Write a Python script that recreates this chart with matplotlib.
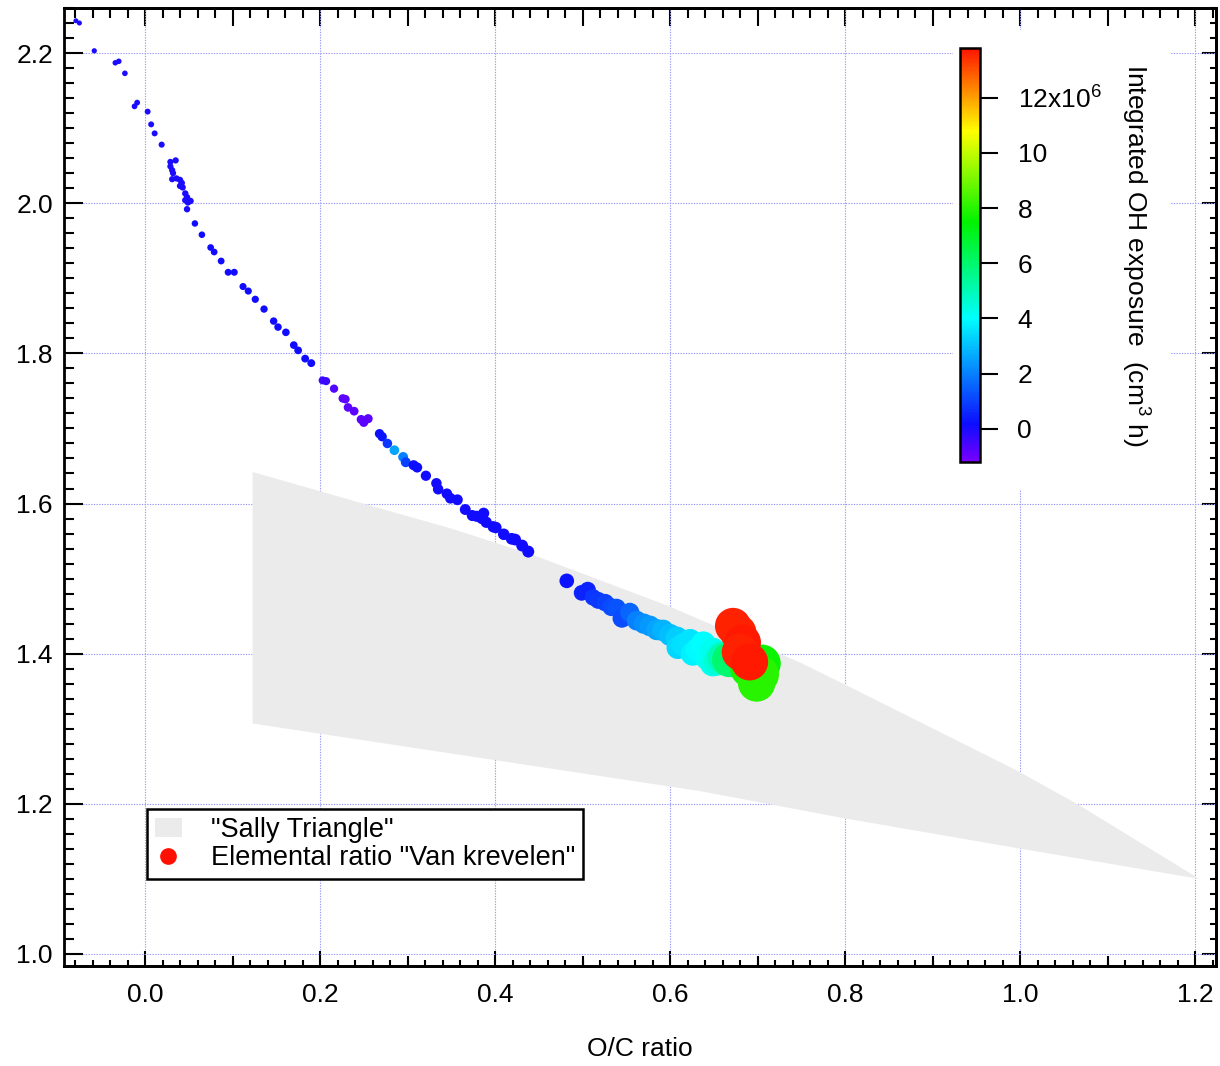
import numpy as np
import matplotlib
matplotlib.use("Agg")
import matplotlib.pyplot as plt
from matplotlib.colors import LinearSegmentedColormap, Normalize
from matplotlib.patches import Patch, Rectangle
from matplotlib.lines import Line2D
from matplotlib.ticker import MultipleLocator, NullFormatter

plt.rcParams['font.family'] = ['Liberation Sans', 'DejaVu Sans']
plt.rcParams['mathtext.fontset'] = 'custom'
plt.rcParams['mathtext.rm'] = 'Liberation Sans'
plt.rcParams['mathtext.it'] = 'Liberation Sans'

# Van Krevelen data: O/C, H/C and integrated OH exposure (units of 1e6 cm^-3 h)
oc = [-0.079, -0.075, -0.058, -0.034, -0.030, -0.023, -0.012, -0.009, 0.003, 0.007, 0.011, 0.019,
      0.029, 0.035, 0.029, 0.031, 0.032, 0.031, 0.036, 0.040, 0.042, 0.040, 0.043, 0.046, 0.048,
      0.046, 0.049, 0.052, 0.048,
      0.057, 0.065, 0.075, 0.079, 0.087, 0.095, 0.102, 0.112, 0.118, 0.126, 0.136, 0.147, 0.152,
      0.161, 0.170, 0.175, 0.183, 0.190,
      0.203, 0.207, 0.216, 0.226, 0.229, 0.232, 0.239, 0.247, 0.250, 0.255,
      0.268, 0.271, 0.277, 0.285, 0.295, 0.298, 0.307, 0.311, 0.321, 0.333, 0.335, 0.345, 0.349,
      0.357, 0.366, 0.374, 0.379, 0.387, 0.385, 0.390, 0.398, 0.401, 0.410, 0.419, 0.423, 0.431, 0.438,
      0.482, 0.499, 0.506, 0.512, 0.518, 0.526, 0.533, 0.539, 0.545, 0.554, 0.562, 0.570, 0.577,
      0.585, 0.592, 0.600, 0.608, 0.609, 0.615, 0.623, 0.626, 0.632, 0.638, 0.643, 0.649, 0.649,
      0.655, 0.660, 0.668,
      0.690, 0.699, 0.705, 0.703,
      0.672, 0.678, 0.683, 0.680, 0.691]
hc = [2.243, 2.240, 2.203, 2.187, 2.189, 2.173, 2.129, 2.134, 2.122, 2.105, 2.093, 2.078,
      2.055, 2.057, 2.049, 2.044, 2.040, 2.032, 2.033, 2.031, 2.027, 2.023, 2.021, 2.013, 2.008,
      2.004, 2.001, 2.003, 1.992,
      1.973, 1.958, 1.941, 1.935, 1.923, 1.908, 1.908, 1.889, 1.883, 1.872, 1.859, 1.843, 1.835,
      1.828, 1.811, 1.804, 1.793, 1.787,
      1.764, 1.763, 1.753, 1.740, 1.739, 1.728, 1.723, 1.712, 1.708, 1.713,
      1.693, 1.689, 1.680, 1.671, 1.662, 1.655, 1.651, 1.648, 1.637, 1.627, 1.619, 1.613, 1.607,
      1.605, 1.592, 1.584, 1.583, 1.587, 1.580, 1.575, 1.569, 1.568, 1.559, 1.553, 1.552, 1.544, 1.536,
      1.497, 1.481, 1.485, 1.475, 1.471, 1.468, 1.462, 1.461, 1.447, 1.455, 1.444, 1.440, 1.437,
      1.432, 1.431, 1.425, 1.421, 1.408, 1.412, 1.417, 1.400, 1.405, 1.413, 1.395, 1.404, 1.387,
      1.390, 1.395, 1.392,
      1.380, 1.361, 1.387, 1.372,
      1.437, 1.428, 1.415, 1.402, 1.389]
oh_exposure = [0.0] * 12 + [0.0] * 17 + [0.1] * 18 + \
    [-0.4, -0.4, -0.7, -0.8, -0.8, -0.8, -0.8, -0.8, -0.8, -0.8] + \
    [0.2, 0.3, 0.8, 2.6, 2.0, 1.0, 0.2, 0.2, 0.1, 0.1, 0.1, 0.1, 0.1, 0.1, 0.1, 0.1, 0.1,
     0.1, 0.1, 0.1, 0.1, 0.1, 0.1, 0.1, 0.1, 0.1, 0.1] + \
    [0.3, 0.5, 0.5, 0.8, 0.9, 1.0, 1.2, 1.3, 1.2, 1.6, 2.0, 2.2, 2.4,
     2.6, 2.8, 3.0, 3.2, 3.4, 3.5, 3.6, 3.8, 3.9, 4.0, 4.1, 4.2, 4.3,
     4.6, 5.0, 6.0] + \
    [7.8, 8.0, 7.6, 8.0] + \
    [13.6, 13.6, 13.7, 13.6, 13.7]

# "Sally triangle" outline (upper edge, then lower edge back)
tri_oc = [0.123, 0.249, 0.349, 0.440, 0.597, 0.749, 0.798, 0.997, 1.065, 1.205,
          0.997, 0.798, 0.634, 0.123]
tri_hc = [1.642, 1.600, 1.567, 1.533, 1.464, 1.388, 1.360, 1.244, 1.200, 1.100,
          1.141, 1.181, 1.217, 1.307]

cbar_ticks = [0, 2, 4, 6, 8, 10, 12]
cbar_labels = ['0', '2', '4', '6', '8', '10', '12x10$^{6}$']

# rainbow: purple -> blue -> cyan -> green -> yellow -> red
rainbow = LinearSegmentedColormap.from_list('igor_rainbow', [
    (0.00, (0.47, 0.0, 1.0)),
    (0.09, (0.05, 0.05, 1.0)),
    (0.347, (0.0, 1.0, 1.0)),
    (0.58, (0.0, 0.95, 0.0)),
    (0.80, (1.0, 1.0, 0.0)),
    (1.00, (1.0, 0.08, 0.0)),
])
norm = Normalize(vmin=-1.2, vmax=13.8)

W, H = 1220, 1066
fig = plt.figure(figsize=(W / 100, H / 100), dpi=100)
ax = fig.add_axes([64 / W, 100 / H, 1152 / W, 958 / H])

ax.fill(tri_oc, tri_hc, color='#ebebeb', lw=0, zorder=1)

# marker diameter grows along the oxidation path
oc_arr = np.array(oc)
diam_px = np.interp(oc_arr, [-0.08, 0.1, 0.2, 0.3, 0.44, 0.48, 0.55, 0.6, 0.65, 0.67, 0.71],
                    [5, 7, 8, 10, 12, 14.5, 19, 22, 26, 36, 38])
sizes = (diam_px * 0.72) ** 2
sc = ax.scatter(oc, hc, c=oh_exposure, cmap=rainbow, norm=norm, s=sizes,
                edgecolors='none', zorder=3)

ax.set_xlim(-0.0926, 1.224)
ax.set_ylim(0.984, 2.26)
ax.set_axisbelow(True)
ax.grid(True, which='major', color=(0.6, 0.6, 1.0), linestyle=(0, (1.2, 1.2)), linewidth=0.8)

ax.xaxis.set_major_locator(MultipleLocator(0.2))
ax.xaxis.set_minor_locator(MultipleLocator(0.02))
ax.yaxis.set_major_locator(MultipleLocator(0.2))
ax.yaxis.set_minor_locator(MultipleLocator(0.02))
ax.xaxis.set_major_formatter(lambda v, p: f'{v:.1f}')
ax.yaxis.set_major_formatter(lambda v, p: f'{v:.1f}')

for s in ax.spines.values():
    s.set_linewidth(2.0)
ax.tick_params(axis='x', which='major', direction='in', length=11, width=1.5,
               labelsize=19, pad=12)
ax.tick_params(axis='x', which='minor', direction='in', length=4, width=1.5)
ax.tick_params(axis='y', which='major', direction='in', length=14, width=1.5,
               labelsize=19, pad=8)
ax.tick_params(axis='y', which='minor', direction='in', length=7, width=1.5)

# half-decade ticks on the bottom axis
mid = ax.secondary_xaxis('bottom')
mid.set_xticks(np.arange(-0.1, 1.25, 0.2))
mid.xaxis.set_major_formatter(NullFormatter())
mid.tick_params(direction='in', length=7, width=1.5)
mid.spines['bottom'].set_linewidth(2.0)

top = ax.secondary_xaxis('top')
top.xaxis.set_major_locator(MultipleLocator(0.1))
top.xaxis.set_minor_locator(MultipleLocator(0.02))
top.xaxis.set_major_formatter(NullFormatter())
top.tick_params(which='major', direction='in', length=13, width=1.5)
top.tick_params(which='minor', direction='in', length=7, width=1.5)
top.spines['top'].set_linewidth(2.0)

right = ax.secondary_yaxis('right')
right.yaxis.set_major_locator(MultipleLocator(0.2))
right.yaxis.set_minor_locator(MultipleLocator(0.02))
right.yaxis.set_major_formatter(NullFormatter())
right.tick_params(which='major', direction='in', length=10, width=1.5)
right.tick_params(which='minor', direction='in', length=4, width=1.5)
right.spines['right'].set_linewidth(2.0)

ax.set_xlabel('O/C ratio', fontsize=19, labelpad=22)

handles = [Patch(facecolor='#ebebeb', edgecolor='none'),
           Line2D([], [], marker='o', color='#ff1000', ls='none', markersize=11)]
leg = ax.legend(handles, ['"Sally Triangle"', 'Elemental ratio "Van krevelen"'],
                loc='lower left', bbox_to_anchor=(0.072, 0.0908), borderaxespad=0,
                fontsize=19.5, frameon=True, fancybox=False, framealpha=1,
                edgecolor='black', borderpad=0.28, labelspacing=0.1,
                handlelength=1.0, handletextpad=1.1)
leg.get_frame().set_linewidth(1.8)

# white panel behind the colour scale
fig.add_artist(Rectangle((953 / W, (H - 490) / H), (1170 - 953) / W, (490 - 30) / H,
                         transform=fig.transFigure, facecolor='white',
                         edgecolor='none', zorder=2))
cax = fig.add_axes([960 / W, (H - 462) / H, 20 / W, 414 / H], zorder=3)
cb = fig.colorbar(sc, cax=cax)
cb.set_ticks(cbar_ticks)
cb.set_ticklabels(cbar_labels)
cb.outline.set_linewidth(1.8)
cax.tick_params(direction='out', length=13, width=1.5, labelsize=19, pad=14)
fig.text(1135 / W, 1 - 255 / H, 'Integrated OH exposure  (cm$^{3}$ h)',
         rotation=-90, ha='center', va='center', fontsize=19, zorder=4)

fig.savefig('out.png', dpi=100)
